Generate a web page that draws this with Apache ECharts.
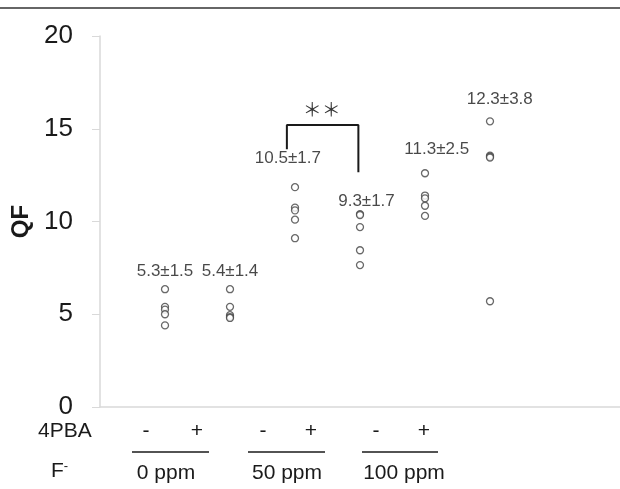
<!DOCTYPE html>
<html>
<head>
<meta http-equiv="content-type" content="text/html; charset=utf-8" />
<script src="https://cdn.jsdelivr.net/npm/echarts@6/dist/echarts.min.js"></script>
<title>QF</title>
<style type="text/css">
* {margin:0; padding:0;}
body {background:#ffffff;}
#chart {width:620px; height:489px;}
</style>
</head>
<body>
<div id="chart"></div>
<script>
// x positions of the six groups (0 ppm -/+, 50 ppm -/+, 100 ppm -/+)
var groupX = [1, 2, 3, 4, 5, 6];
// QF values per group
var qf0Minus   = [6.35, 5.4, 5.25, 5.0, 4.4];
var qf0Plus    = [6.35, 5.4, 4.95, 4.85, 4.8];
var qf50Minus  = [11.85, 10.75, 10.6, 10.1, 9.1];
var qf50Plus   = [10.4, 10.35, 9.7, 8.45, 7.65];
var qf100Minus = [12.6, 11.4, 11.25, 10.85, 10.3];
var qf100Plus  = [15.4, 13.55, 13.5, 13.45, 5.7];
var groups = [qf0Minus, qf0Plus, qf50Minus, qf50Plus, qf100Minus, qf100Plus];

// mean ± sd labels and where they sit (data coords)
var statText = ['5.3±1.5', '5.4±1.4', '10.5±1.7', '9.3±1.7', '11.3±2.5', '12.3±3.8'];
var statX = [1.0, 2.0, 2.89, 4.1, 5.18, 6.15];
var statY = [7.33, 7.33, 13.42, 11.07, 13.9, 16.6];

// significance bracket between 50 ppm - and +
var bracketX = [2.875, 2.875, 3.975, 3.975];
var bracketY = [13.9, 15.2, 15.2, 12.65];
var starX = 3.41, starY = 16.0;

var yTicks = [0, 5, 10, 15, 20];
var pbaText = ['-', '+', '-', '+', '-', '+'];
var doseText = ['0 ppm', '50 ppm', '100 ppm'];

var pts = [];
for (var g = 0; g < groups.length; g++) {
	for (var i = 0; i < groups[g].length; i++) {
		pts.push([groupX[g], groups[g][i]]);
	}
}
var statData = statText.map(function (t, i) { return {value: [statX[i], statY[i]], name: t}; });
var bracket = bracketX.map(function (x, i) { return [x, bracketY[i]]; });

var font = 'Liberation Sans, Arial, sans-serif';
var chart = echarts.init(document.getElementById('chart'));

// bottom table: 4PBA -/+ and F- dose
var pbaPx = [146, 197, 263, 311, 376, 424];
var linePx = [[132, 209], [248, 325], [362, 438]];
var dosePx = [166, 287, 404];
var graphics = [
	{type:'line', shape:{x1:0, y1:8, x2:620, y2:8}, style:{stroke:'#333', lineWidth:1.5}},
	{type:'text', left:38, top:421, style:{text:'4PBA', font:'21px ' + font, fill:'#1a1a1a'}},
	{type:'text', left:51, top:460, style:{text:'F{s|-}', font:'21px ' + font, fill:'#1a1a1a',
		rich:{s:{fontSize:13, verticalAlign:'top', padding:[0,0,10,0], fill:'#1a1a1a'}}}}
];
pbaText.forEach(function (t, i) {
	graphics.push({type:'text', x:pbaPx[i], y:431, style:{text:t, font:'21px ' + font, fill:'#1a1a1a', textAlign:'center', textVerticalAlign:'middle'}});
});
linePx.forEach(function (l) {
	graphics.push({type:'line', shape:{x1:l[0], y1:452, x2:l[1], y2:452}, style:{stroke:'#1a1a1a', lineWidth:1.5}});
});
doseText.forEach(function (t, i) {
	graphics.push({type:'text', x:dosePx[i], y:473, style:{text:t, font:'21px ' + font, fill:'#1a1a1a', textAlign:'center', textVerticalAlign:'middle'}});
});

chart.setOption({
	animation: false,
	grid: {left: 100, top: 36, width: 523, bottom: 82},
	xAxis: {
		type: 'value', min: 0, max: 8,
		axisLine: {show: true, lineStyle: {color: '#d9d9d9', width: 1.5}},
		axisTick: {show: false}, axisLabel: {show: false}, splitLine: {show: false}
	},
	yAxis: {
		type: 'value', min: yTicks[0], max: yTicks[yTicks.length - 1], interval: 5,
		name: 'QF', nameLocation: 'middle', nameGap: 58, nameRotate: 90,
		nameTextStyle: {fontSize: 24, fontWeight: 'bold', color: '#1a1a1a', fontFamily: font},
		axisLine: {show: true, lineStyle: {color: '#d9d9d9', width: 1.5}},
		axisTick: {show: true, length: 8, lineStyle: {color: '#d9d9d9'}},
		axisLabel: {fontSize: 26, color: '#1a1a1a', margin: 27, fontFamily: font},
		splitLine: {show: false}
	},
	series: [
		{
			type: 'scatter', data: pts, symbol: 'circle', symbolSize: 7,
			itemStyle: {color: '#fff', borderColor: '#444', borderWidth: 1.3}
		},
		{
			type: 'scatter', data: statData, symbolSize: 0, silent: true,
			label: {show: true, position: 'inside', formatter: '{b}', fontSize: 17, color: '#1a1a1a', fontFamily: font}
		},
		{
			type: 'line', data: bracket, symbol: 'none', silent: true,
			lineStyle: {color: '#1a1a1a', width: 2}
		},
		{
			type: 'scatter', data: [{value: [starX, starY], name: '＊＊'}], symbolSize: 0, silent: true,
			label: {show: true, position: 'inside', formatter: '{b}', fontSize: 19, color: '#000', fontFamily: 'Noto Sans CJK JP'}
		}
	],
	graphic: graphics
});
</script>
</body>
</html>
